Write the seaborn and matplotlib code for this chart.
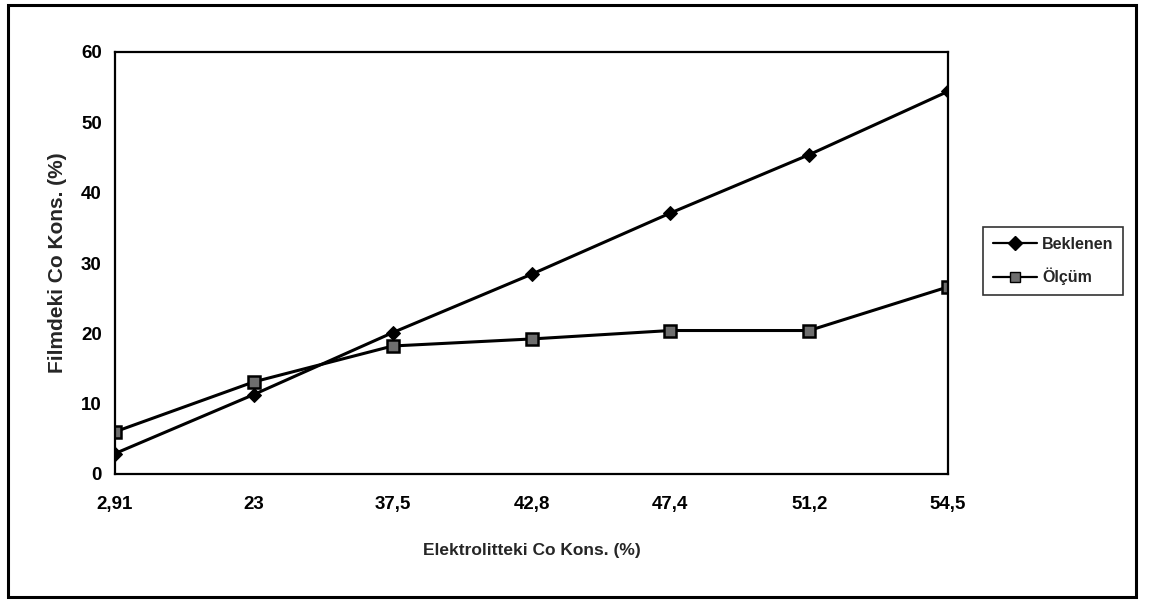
import matplotlib
matplotlib.use("Agg")
import matplotlib.pyplot as plt
import seaborn as sns
import pandas as pd
from matplotlib.patches import Rectangle
from matplotlib.lines import Line2D

categories = ["2,91", "23", "37,5", "42,8", "47,4", "51,2", "54,5"]
beklenen = [2.91, 11.3, 20.1, 28.4, 37.1, 45.4, 54.4]
olcum = [6.0, 13.1, 18.2, 19.2, 20.4, 20.4, 26.6]
series_names = ["Beklenen", "Ölçüm"]
y_ticks = [0, 10, 20, 30, 40, 50, 60]

sns.set_theme(style="white")
plt.rcParams['font.family'] = ['Liberation Sans', 'DejaVu Sans']

df = pd.DataFrame({
    "pos": list(range(len(categories))) * 2,
    "value": beklenen + olcum,
    "series": [series_names[0]] * len(categories) + [series_names[1]] * len(categories),
})

fig = plt.figure(figsize=(11.59, 6.02), dpi=100)
ax = fig.add_axes([115/1159, 1-474/602, (948-115)/1159, (474-52)/602])

sns.lineplot(data=df, x="pos", y="value", hue="series", style="series",
             markers={"Beklenen": "D", "Ölçüm": "s"}, dashes=False,
             palette={"Beklenen": "black", "Ölçüm": "black"},
             linewidth=2.2, markersize=8, ax=ax, legend=False)

lines = ax.get_lines()
lines[0].set_markerfacecolor("black"); lines[0].set_markeredgecolor("black")
lines[0].set_markersize(7.5)
lines[1].set_markerfacecolor("#6e6e6e"); lines[1].set_markeredgecolor("black")
lines[1].set_markeredgewidth(1.8)

ax.set_xlim(0, len(categories) - 1)
ax.set_ylim(0, 60)
ax.set_xticks(range(len(categories)))
ax.set_xticklabels(categories)
ax.set_yticks(y_ticks)
ax.tick_params(axis="both", direction="inout", length=7, width=1.2, colors="black",
               labelsize=13.5, pad=6)
ax.tick_params(axis="x", pad=12)
for lab in ax.get_xticklabels() + ax.get_yticklabels():
    lab.set_fontweight("bold")
for s in ax.spines.values():
    s.set_color("black"); s.set_linewidth(1.6); s.set_visible(True)

ax.set_xlabel("Elektrolitteki Co Kons. (%)", fontsize=12.5, fontweight="bold", labelpad=22)
ax.set_ylabel("Filmdeki Co Kons. (%)", fontsize=15, fontweight="bold", labelpad=10)

handles = [
    Line2D([], [], color="black", lw=1.6, marker="D", markersize=7,
           markerfacecolor="black", markeredgecolor="black"),
    Line2D([], [], color="black", lw=1.6, marker="s", markersize=7,
           markerfacecolor="#6e6e6e", markeredgecolor="black"),
]
leg = fig.legend(handles, series_names, loc="center left",
                 bbox_to_anchor=(983/1159, 1-261/602), frameon=True, fancybox=False,
                 edgecolor="black", fontsize=11.5, handlelength=2.8, handletextpad=0.3,
                 borderpad=0.6, labelspacing=1.0, borderaxespad=0)
leg.get_frame().set_linewidth(1.2)
for t in leg.get_texts():
    t.set_fontweight("bold")

fig.patches.append(Rectangle((8/1159, 1-597/602), (1136-8)/1159, (597-5)/602,
                             transform=fig.transFigure, fill=False,
                             edgecolor="black", linewidth=2.2))

fig.savefig("out.png", dpi=100)
